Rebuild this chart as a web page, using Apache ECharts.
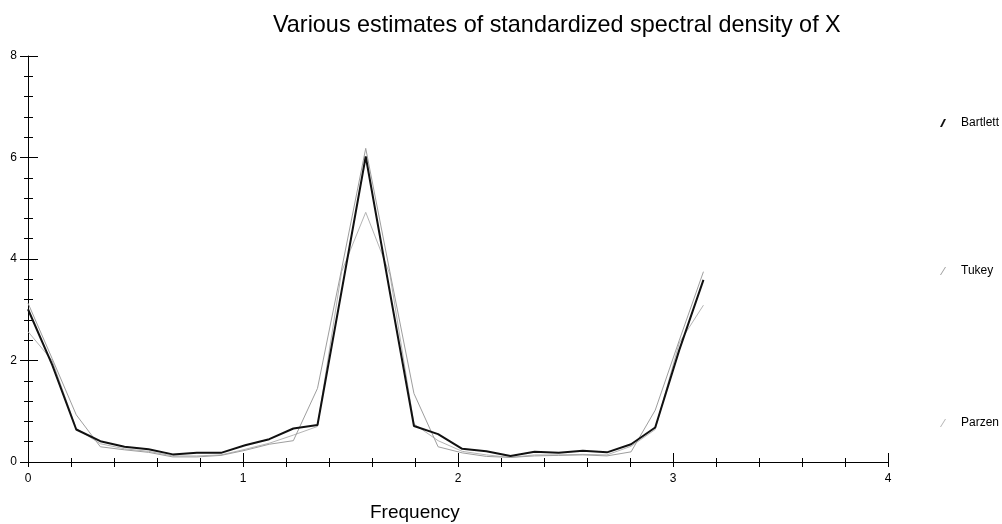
<!DOCTYPE html>
<html>
<head>
<meta charset="utf-8">
<script src="https://cdn.jsdelivr.net/npm/echarts@6/dist/echarts.min.js"></script>
<style>html,body{margin:0;padding:0;background:#fff;}#c{width:1002px;height:524px;}</style>
</head>
<body>
<div id="c"></div>
<script>
// Frequencies (radians), 0 .. pi
const freqs = [0, 0.1122, 0.2244, 0.3366, 0.4488, 0.5610, 0.6732, 0.7854, 0.8976, 1.0098,
  1.1220, 1.2342, 1.3464, 1.4586, 1.5708, 1.6830, 1.7952, 1.9074, 2.0196, 2.1318,
  2.2440, 2.3562, 2.4684, 2.5806, 2.6928, 2.8050, 2.9172, 3.0294, 3.1416];
const bartlett = [3.01, 1.92, 0.64, 0.41, 0.30, 0.25, 0.15, 0.18, 0.18, 0.33,
  0.45, 0.66, 0.73, 3.37, 6.02, 3.35, 0.71, 0.55, 0.26, 0.21,
  0.12, 0.20, 0.18, 0.22, 0.19, 0.35, 0.68, 2.21, 3.59];
const tukey = [3.13, 2.04, 0.93, 0.30, 0.24, 0.19, 0.10, 0.10, 0.13, 0.23,
  0.35, 0.42, 1.45, 3.80, 6.18, 3.75, 1.35, 0.30, 0.18, 0.11,
  0.09, 0.12, 0.13, 0.14, 0.12, 0.20, 1.02, 2.40, 3.75];
const parzen = [2.57, 2.00, 0.66, 0.36, 0.26, 0.21, 0.12, 0.12, 0.14, 0.25,
  0.37, 0.53, 0.70, 3.75, 4.92, 3.70, 0.75, 0.42, 0.21, 0.14,
  0.09, 0.14, 0.14, 0.15, 0.14, 0.31, 0.64, 2.35, 3.09];
const titleText = 'Various estimates of standardized spectral density of X';
const xName = 'Frequency';
const seriesNames = ['Bartlett', 'Tukey', 'Parzen'];

const pairs = v => freqs.map((f, i) => [f, v[i]]);
const FONT = 'Liberation Sans, Arial, sans-serif';
const gridBox = {left: 28, right: 114, top: 56, bottom: 62};

const chart = echarts.init(document.getElementById('c'), null, {renderer: 'canvas'});
const legendBase = (name, top, icon) => ({
  data: [name], orient: 'vertical', left: 935, top: top,
  itemWidth: 6, itemHeight: 8, icon: icon,
  textStyle: {fontFamily: FONT, fontSize: 12, color: '#000', padding: [0, 0, 0, 10]},
  selectedMode: false
});
chart.setOption({
  animation: false,
  backgroundColor: '#fff',
  title: [
    {text: titleText, left: 268, top: 9, textStyle: {fontFamily: FONT, fontSize: 23.4, fontWeight: 'normal', color: '#000'}},
    {text: xName, left: 365, top: 498, textStyle: {fontFamily: FONT, fontSize: 19, fontWeight: 'normal', color: '#000'}}
  ],
  legend: [
    legendBase(seriesNames[0], 112, 'path://M0,8 L2,8 L6,0 L4,0 Z'),
    legendBase(seriesNames[1], 260, 'path://M0,8 L1,8 L6,0 L5,0 Z'),
    legendBase(seriesNames[2], 412, 'path://M0,8 L1,8 L6,0 L5,0 Z')
  ],
  grid: [Object.assign({}, gridBox), Object.assign({}, gridBox)],
  xAxis: [
    {type: 'value', gridIndex: 0, min: 0, max: 4, interval: 1,
     axisLine: {show: true, onZero: false, lineStyle: {color: '#000', width: 1}},
     axisTick: {show: true, inside: true, length: 9, lineStyle: {color: '#000'}},
     minorTick: {show: true, splitNumber: 5, length: 4, lineStyle: {color: '#000'}},
     axisLabel: {margin: 11, fontFamily: FONT, fontSize: 12, color: '#000'},
     splitLine: {show: false}, minorSplitLine: {show: false}},
    {type: 'value', gridIndex: 1, min: 0, max: 4, interval: 1,
     axisLine: {show: false, onZero: false},
     axisTick: {show: true, inside: false, length: 5, lineStyle: {color: '#000'}},
     minorTick: {show: true, splitNumber: 5, length: 5, lineStyle: {color: '#000'}},
     axisLabel: {show: false}, splitLine: {show: false}}
  ],
  yAxis: [
    {type: 'value', gridIndex: 0, min: 0, max: 8, interval: 2,
     axisLine: {show: true, onZero: false, lineStyle: {color: '#000', width: 1}},
     axisTick: {show: true, inside: true, length: 10, lineStyle: {color: '#000'}},
     minorTick: {show: true, splitNumber: 5, length: 5, lineStyle: {color: '#000'}},
     axisLabel: {margin: 11, fontFamily: FONT, fontSize: 12, color: '#000'},
     splitLine: {show: false}},
    {type: 'value', gridIndex: 1, min: 0, max: 8, interval: 2,
     axisLine: {show: false, onZero: false},
     axisTick: {show: true, inside: false, length: 8, lineStyle: {color: '#000'}},
     minorTick: {show: true, splitNumber: 5, length: 4, lineStyle: {color: '#000'}},
     axisLabel: {show: false}, splitLine: {show: false}}
  ],
  series: [
    {name: seriesNames[2], type: 'line', xAxisIndex: 0, yAxisIndex: 0, data: pairs(parzen),
     showSymbol: false, symbol: 'none', color: '#b4b4b4', lineStyle: {color: '#b4b4b4', width: 1}, z: 2},
    {name: seriesNames[1], type: 'line', xAxisIndex: 0, yAxisIndex: 0, data: pairs(tukey),
     showSymbol: false, symbol: 'none', color: '#9e9e9e', lineStyle: {color: '#9e9e9e', width: 1}, z: 3},
    {name: seriesNames[0], type: 'line', xAxisIndex: 0, yAxisIndex: 0, data: pairs(bartlett),
     showSymbol: false, symbol: 'none', color: '#111', lineStyle: {color: '#111', width: 2}, z: 4}
  ]
});
</script>
</body>
</html>
